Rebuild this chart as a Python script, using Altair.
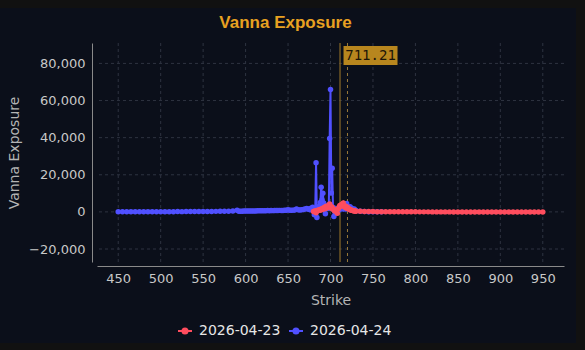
import altair as alt
import pandas as pd

# ---------------- data ----------------
series_names = ["2026-04-23", "2026-04-24"]
chart_title = ["Vanna Exposure"]

# 2026-04-24 (blue)
strikes_b = (
    list(range(450, 590, 5))
    + list(range(590, 675, 2))
    + list(range(675, 731, 1))
    + [735, 740, 745, 750, 755, 760]
)
values_b = [
    # 450 .. 585 step 5
    40, 35, 50, 45, 60, 55, 70, 65, 80, 90, 110, 100, 120, 130,
    150, 140, 170, 160, 190, 210, 230, 220, 260, 280, 310, 300, 350, 420,
    # 590 .. 674 step 2
    900, 350, 380, 400, 420, 450, 430, 470, 500, 480, 520, 540, 600, 560,
    580, 620, 600, 650, 700, 660, 720, 680, 750, 700, 780, 820, 760, 800,
    850, 900, 1200, 900, 850, 950, 1000, 1500, 1100, 1000, 1200, 1300, 1500, 1800,
    1400,
    # 675 .. 730 step 1
    1500, 1200, 2000, 1500, 2500, 1800, -1500, 1000, 26500, -3000,
    2500, 1500, 3000, 5000, 13300, 6400, 10000, 4800, 3000, -1000,
    2500, 1800, 3500, 2000, 39500, 66000, 10200, 23500, 1500, -2500,
    2000, 1000, 500, -500, 800, 1200, 1500, 2000, 1800, 2500,
    1500, 3000, 2000, 1500, 4500, 3000, 2500, 2000, 2800, 1500,
    2000, 1200, 900, 1500, 600, 800,
    # 735 .. 760 step 5
    300, 200, 100, 80, 50, 30,
]

# 2026-04-23 (red)
strikes_r = list(range(680, 731, 1)) + list(range(735, 951, 5))
values_r = [
    # 680 .. 730 step 1
    200, 300, 500, -500, 800, 600, 1000, 1200, 900, 1500,
    1300, 2000, 1500, 2500, 1800, 3000, 2200, 2800, 3500, 4300,
    3000, 2000, 2500, 1500, 1000, 500, 1200, 800, -800, 1500,
    2500, 3500, 3000, 4000, 3500, 4800, 3200, 2500, 3000, 2000,
    2500, 1800, 1500, 1200, 1000, 900, 800, 600, 500, 450,
    400,
    # 735 .. 950 step 5
    300, 250, 200, 150, 120, 100, 80, 60, 50, 40,
    30, 25, 20, 15, 12, 10, 8, 6, 5, 4,
    3, 3, 2, 2, 2, 1, 1, 1, 1, 1,
    1, 0, 0, 0, 0, 0, 0, 0, 0, 0,
    0, 0, 0, 0,
]

spot_price = [711.21]
spot_label = ["711.21"]
dashed_level = [720]

x_ticks = [450, 500, 550, 600, 650, 700, 750, 800, 850, 900, 950]
y_ticks = [-20000, 0, 20000, 40000, 60000, 80000]

df_b = pd.DataFrame({"strike": strikes_b, "value": values_b, "expiry": series_names[1]})
df_r = pd.DataFrame({"strike": strikes_r, "value": values_r, "expiry": series_names[0]})

# ---------------- styling ----------------
BG_OUTER = "#111111"
BG_PANEL = "#0b0f1a"
RED = "#ff4d5e"
BLUE = "#5050ff"
GOLD = "#b8861e"
GRID = "#2e3340"

x_scale = alt.Scale(domain=[425, 975], nice=False, zero=False)
y_scale = alt.Scale(domain=[-27000, 91000], nice=False, zero=False)
color_scale = alt.Scale(domain=series_names, range=[RED, BLUE])

x_axis = alt.Axis(
    values=x_ticks, title="Strike", grid=False, offset=4, ticks=False,
    labelPadding=6, titlePadding=8, format="d", zindex=2,
)
y_axis = alt.Axis(
    values=y_ticks, title="Vanna Exposure", grid=False, offset=5, ticks=False,
    labelPadding=7, titlePadding=7, format=",d", zindex=2,
)

legend = alt.Legend(
    title=None,
    orient="none",
    direction="horizontal",
    legendX=80,
    legendY=280,
    symbolType="M-1,0L1,0M-0.36,0A0.36,0.36,0,1,1,0.36,0A0.36,0.36,0,1,1,-0.36,0Z",
    symbolSize=196,
    symbolStrokeWidth=2,
    labelFontSize=14,
    labelFont="DejaVu Sans",
    labelColor="#e6e6e6",
    labelOffset=6,
    columnPadding=4,
    zindex=2,
)

panel = alt.Chart(pd.DataFrame({"k": [0]})).mark_rect(color=BG_PANEL).encode(
    x=alt.value(-97), x2=alt.value(479), y=alt.value(-35), y2=alt.value(300)
)

grid_x = alt.Chart(pd.DataFrame({"t": x_ticks})).mark_rule(
    color=GRID, strokeWidth=1, strokeDash=[3, 3]
).encode(x=alt.X("t:Q", scale=x_scale))
grid_y = alt.Chart(pd.DataFrame({"t": y_ticks})).mark_rule(
    color=GRID, strokeWidth=1, strokeDash=[3, 3]
).encode(y=alt.Y("t:Q", scale=y_scale))

def series_chart(df):
    return alt.Chart(df).mark_line(
        strokeWidth=2,
        point=alt.OverlayMarkDef(size=30, filled=True, opacity=1),
    ).encode(
        x=alt.X("strike:Q", scale=x_scale, axis=x_axis),
        y=alt.Y("value:Q", scale=y_scale, axis=y_axis),
        color=alt.Color("expiry:N", scale=color_scale, legend=legend),
    )

blue_line = series_chart(df_b)
red_line = series_chart(df_r)

spot_df = pd.DataFrame({"x": spot_price, "label": spot_label})
spot_rule = alt.Chart(spot_df).mark_rule(color="#8a6a28", strokeWidth=1.2).encode(
    x=alt.X("x:Q", scale=x_scale)
)
dash_rule = alt.Chart(pd.DataFrame({"x": dashed_level})).mark_rule(
    color="#9a7a3a", strokeWidth=1, strokeDash=[3, 3]
).encode(x=alt.X("x:Q", scale=x_scale))

label_box = alt.Chart(spot_df).mark_rect(
    color=GOLD, xOffset=3.5, x2Offset=57.5
).encode(
    x=alt.X("x:Q", scale=x_scale), x2="x:Q",
    y=alt.value(3), y2=alt.value(22),
)
label_text = alt.Chart(spot_df).mark_text(
    font="DejaVu Sans Mono", fontSize=14, color="#1e1608", align="center",
    baseline="middle", dx=30.5,
).encode(
    x=alt.X("x:Q", scale=x_scale), y=alt.value(13), text="label:N"
)

title_text = alt.Chart(pd.DataFrame({"title": chart_title})).mark_text(
    font="Liberation Sans", fontSize=17, fontWeight="bold", color="#e8a121",
    align="center", baseline="alphabetic",
).encode(x=alt.value(188.5), y=alt.value(-15), text="title:N")

chart = alt.layer(
    panel, grid_x, grid_y, spot_rule, dash_rule, blue_line, red_line,
    label_box, label_text, title_text
).properties(
    width=467,
    height=219,
    background=BG_OUTER,
    padding={"left": 97, "top": 43, "right": 21, "bottom": 88},
    autosize=alt.AutoSizeParams(type="none"),
).configure_view(
    strokeWidth=0
).configure_axis(
    domainColor="#8a8a8a",
    domainWidth=1,
    labelColor="#c8c8c8",
    labelFont="DejaVu Sans",
    labelFontSize=13,
    titleColor="#b4b4b4",
    titleFont="DejaVu Sans",
    titleFontSize=14,
    titleFontWeight="normal",
)

chart.save("out.html", embed_options={"renderer": "svg", "actions": False})
